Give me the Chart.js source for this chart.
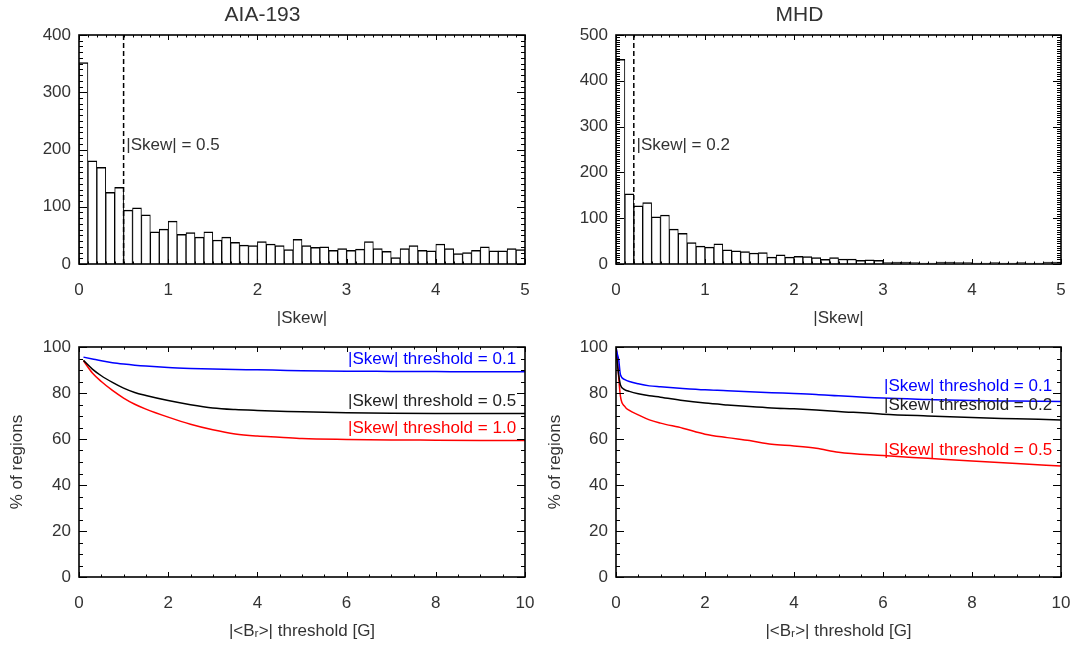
<!DOCTYPE html>
<html>
<head>
<meta charset="utf-8">
<title>|Skew| distributions</title>
<script src="https://cdn.jsdelivr.net/npm/chart.js@4.4.1/dist/chart.umd.min.js"></script>
<style>
  body { margin: 0; background: #fff; }
  #wrap { position: relative; width: 1076px; height: 645px; }
  canvas { position: absolute; }
</style>
</head>
<body>
<div id="wrap">
  <canvas id="aiaHist" width="538" height="330" style="left:0;top:0"></canvas>
  <canvas id="mhdHist" width="538" height="330" style="left:538px;top:0"></canvas>
  <canvas id="aiaFrac" width="538" height="315" style="left:0;top:330px"></canvas>
  <canvas id="mhdFrac" width="538" height="315" style="left:538px;top:330px"></canvas>
</div>
<script>
// Histogram bin centres (|Skew|, bin width 0.1)
const skewBins = [
	0.05, 0.15, 0.25, 0.35, 0.45, 0.55, 0.65, 0.75, 0.85, 0.95,
	1.05, 1.15, 1.25, 1.35, 1.45, 1.55, 1.65, 1.75, 1.85, 1.95,
	2.05, 2.15, 2.25, 2.35, 2.45, 2.55, 2.65, 2.75, 2.85, 2.95,
	3.05, 3.15, 3.25, 3.35, 3.45, 3.55, 3.65, 3.75, 3.85, 3.95,
	4.05, 4.15, 4.25, 4.35, 4.45, 4.55, 4.65, 4.75, 4.85, 4.95,
];
const aiaCounts = [
	352, 180, 169, 125, 134, 94, 98, 86, 56, 61,
	75, 52, 55, 47, 56, 42, 47, 38, 33, 32,
	39, 35, 32, 25, 43, 32, 29, 30, 24, 27,
	24, 26, 39, 27, 22, 11, 27, 32, 24, 23,
	35, 27, 18, 20, 24, 30, 23, 23, 27, 25,
];
const mhdCounts = [
	447, 153, 127, 134, 103, 107, 76, 67, 47, 39,
	37, 44, 31, 29, 27, 24, 25, 15, 20, 15,
	17, 16, 14, 10, 14, 11, 11, 8, 9, 8,
	3, 4, 4, 3, 2, 2, 4, 4, 3, 3,
	2, 2, 3, 2, 2, 3, 2, 2, 4, 4,
];
const aiaSkewCut = 0.5;
const mhdSkewCut = 0.2;

// % of regions vs |<Br>| threshold [G]
const aiaBr = [0.1, 0.3, 0.5, 0.75, 1, 1.25, 1.5, 2, 2.5, 3, 3.5, 4, 4.5, 5, 6, 7, 8, 9, 10];
const aiaSkew01 = [95.6, 94.8, 94.0, 93.2, 92.6, 92.1, 91.7, 91.1, 90.7, 90.4, 90.2, 90.1, 89.9, 89.7, 89.5, 89.4, 89.3, 89.2, 89.2];
const aiaSkew05 = [94.2, 90.4, 87.5, 84.6, 82.1, 80.2, 78.9, 76.7, 74.9, 73.5, 72.8, 72.4, 72.1, 71.8, 71.4, 71.2, 71.1, 71.1, 71.1];
const aiaSkew10 = [94.0, 88.7, 85.0, 81.1, 77.8, 75.1, 73.0, 69.5, 66.4, 64.0, 62.2, 61.3, 60.8, 60.2, 59.8, 59.6, 59.5, 59.4, 59.3];

const mhdBr = [0, 0.03, 0.06, 0.1, 0.2, 0.3, 0.5, 0.75, 1, 1.5, 2, 2.5, 3, 3.5, 4, 4.5, 5, 6, 7, 8, 9, 10];
const mhdSkew01 = [100, 97.0, 94.5, 88.0, 85.8, 85.0, 84.0, 83.1, 82.7, 82.0, 81.4, 81.0, 80.5, 80.1, 79.8, 79.4, 78.8, 77.8, 77.2, 76.7, 76.5, 76.3];
const mhdSkew02 = [100, 93.0, 88.0, 83.5, 81.4, 80.7, 79.7, 78.8, 78.2, 76.7, 75.6, 74.8, 74.1, 73.5, 73.1, 72.6, 72.0, 70.8, 70.0, 69.3, 68.8, 68.3];
const mhdSkew05 = [100, 95.0, 87.0, 78.5, 74.1, 72.4, 70.5, 68.3, 66.9, 64.7, 62.1, 60.6, 59.3, 57.7, 57.0, 56.0, 54.2, 52.8, 51.6, 50.4, 49.3, 48.3];

const textColor = '#333';
const fontFamily = "'Liberation Sans', Arial, Helvetica, sans-serif";
Chart.defaults.font.family = fontFamily;
Chart.defaults.color = textColor;

// IDL style frame: box plus inward ticks on all four sides, and text notes
const idlFrame = {
	id: 'idlFrame',
	afterDraw(chart, args, opts) {
		const { ctx, chartArea: a, scales } = chart;
		const x = scales.x;
		const y = scales.y;
		ctx.save();
		ctx.strokeStyle = '#000';
		ctx.lineWidth = 1;
		const nx = Math.round((x.max - x.min) / opts.xMinor);
		for (let i = 0; i <= nx; i++) {
			const v = x.min + i * opts.xMinor;
			const px = Math.round(x.getPixelForValue(v)) + 0.5;
			const major = i % Math.round(opts.xMajor / opts.xMinor) === 0;
			const len = major ? opts.xLen : opts.xLen / 2;
			ctx.beginPath();
			ctx.moveTo(px, a.bottom);
			ctx.lineTo(px, a.bottom - len);
			ctx.moveTo(px, a.top);
			ctx.lineTo(px, a.top + len);
			ctx.stroke();
		}
		const ny = Math.round((y.max - y.min) / opts.yMinor);
		for (let i = 0; i <= ny; i++) {
			const v = y.min + i * opts.yMinor;
			const py = Math.round(y.getPixelForValue(v)) + 0.5;
			const major = i % Math.round(opts.yMajor / opts.yMinor) === 0;
			const len = major ? opts.yLen : opts.yLen / 2;
			ctx.beginPath();
			ctx.moveTo(a.left, py);
			ctx.lineTo(a.left + len, py);
			ctx.moveTo(a.right, py);
			ctx.lineTo(a.right - len, py);
			ctx.stroke();
		}
		ctx.lineWidth = 1.6;
		ctx.strokeRect(a.left, a.top, a.right - a.left, a.bottom - a.top);

		ctx.font = '17px ' + fontFamily;
		ctx.textBaseline = 'middle';
		(opts.notes || []).forEach((n) => {
			ctx.fillStyle = n.color;
			ctx.textAlign = n.align;
			ctx.fillText(n.text, x.getPixelForValue(n.x), y.getPixelForValue(n.y));
		});
		ctx.restore();
	},
};

function xScale(max, step, title, height, titlePad) {
	return {
		type: 'linear',
		min: 0,
		max: max,
		offset: false,
		grid: { display: false, drawTicks: false },
		border: { display: false },
		ticks: { stepSize: step, padding: 16, maxRotation: 0, font: { size: 17 } },
		title: { display: true, text: title, font: { size: 17 }, padding: { top: 0, bottom: titlePad } },
		afterFit: (s) => {
			s.height = height;
			s.paddingLeft = 0;
			s.paddingRight = 0;
		},
	};
}

function yScale(max, step, width, title) {
	return {
		type: 'linear',
		min: 0,
		max: max,
		grid: { display: false, drawTicks: false },
		border: { display: false },
		ticks: { stepSize: step, padding: 8, font: { size: 17 } },
		title: { display: !!title, text: title || '', font: { size: 17 }, padding: { top: 7.4, bottom: 0 } },
		afterFit: (s) => {
			s.width = width;
			s.paddingTop = 0;
			s.paddingBottom = 0;
		},
	};
}

function histChart(id, title, counts, cut, yMax, yMinor, axisWidth, rightPad) {
	const ctx = document.getElementById(id).getContext('2d');
	return new Chart(ctx, {
		type: 'bar',
		data: {
			datasets: [
				{
					type: 'line',
					data: [
						{ x: cut, y: 0 },
						{ x: cut, y: yMax },
					],
					borderColor: '#000',
					borderWidth: 1.5,
					borderDash: [5, 3],
					pointRadius: 0,
				},
				{
					data: skewBins.map((b, i) => ({ x: b, y: counts[i] })),
					backgroundColor: '#fff',
					borderColor: '#000',
					borderWidth: { top: 1.5, left: 1, right: 1, bottom: 0 },
					borderSkipped: false,
					barPercentage: 1,
					categoryPercentage: 1,
				},
			],
		},
		options: {
			responsive: false,
			animation: false,
			layout: { padding: { left: 0, right: rightPad, top: 0, bottom: 0 } },
			scales: {
				x: xScale(5, 1, '|Skew|', 66, 1.8),
				y: yScale(yMax, 100, axisWidth),
			},
			plugins: {
				legend: { display: false },
				tooltip: { enabled: false },
				title: {
					display: true,
					text: title,
					color: textColor,
					font: { size: 21, weight: 'normal' },
					padding: { top: 3, bottom: 6.8 },
				},
				idlFrame: {
					xMajor: 1,
					xMinor: 0.1,
					xLen: 5,
					yMajor: 100,
					yMinor: yMinor,
					yLen: 8,
					notes: [
						{ x: cut + 0.03, y: yMax * 0.52, text: '|Skew| = ' + cut.toFixed(1), color: textColor, align: 'left' },
					],
				},
			},
		},
		plugins: [idlFrame],
	});
}

function fracChart(id, brs, series, axisWidth, rightPad) {
	const ctx = document.getElementById(id).getContext('2d');
	return new Chart(ctx, {
		type: 'line',
		data: {
			datasets: series.map((s) => ({
				data: brs.map((b, i) => ({ x: b, y: s.values[i] })),
				borderColor: s.color,
				borderWidth: 1.5,
				pointRadius: 0,
				cubicInterpolationMode: 'monotone',
			})),
		},
		options: {
			responsive: false,
			animation: false,
			layout: { padding: { left: 0, right: rightPad, top: 17, bottom: 0 } },
			scales: {
				x: xScale(10, 2, '|<Bᵣ>| threshold [G]', 68, 3.8),
				y: yScale(100, 20, axisWidth, '% of regions'),
			},
			plugins: {
				legend: { display: false },
				tooltip: { enabled: false },
				idlFrame: {
					xMajor: 2,
					xMinor: 0.5,
					xLen: 5,
					yMajor: 20,
					yMinor: 5,
					yLen: 8,
					notes: series.map((s) => ({
						x: 9.8,
						y: s.labelY,
						text: '|Skew| threshold = ' + s.cut,
						color: s.textColor,
						align: 'right',
					})),
				},
			},
		},
		plugins: [idlFrame],
	});
}

histChart('aiaHist', 'AIA-193', aiaCounts, aiaSkewCut, 400, 10, 79, 13);
histChart('mhdHist', 'MHD', mhdCounts, mhdSkewCut, 500, 5, 78, 15);

fracChart('aiaFrac', aiaBr, [
	{ values: aiaSkew01, color: '#0000ff', textColor: '#0000ff', cut: '0.1', labelY: 94.8 },
	{ values: aiaSkew05, color: '#000', textColor: '#222', cut: '0.5', labelY: 76.5 },
	{ values: aiaSkew10, color: '#ff0000', textColor: '#ff0000', cut: '1.0', labelY: 64.8 },
], 79, 13);

fracChart('mhdFrac', mhdBr, [
	{ values: mhdSkew01, color: '#0000ff', textColor: '#0000ff', cut: '0.1', labelY: 82.7 },
	{ values: mhdSkew02, color: '#000', textColor: '#222', cut: '0.2', labelY: 74.5 },
	{ values: mhdSkew05, color: '#ff0000', textColor: '#ff0000', cut: '0.5', labelY: 55.2 },
], 78, 15);
</script>
</body>
</html>
